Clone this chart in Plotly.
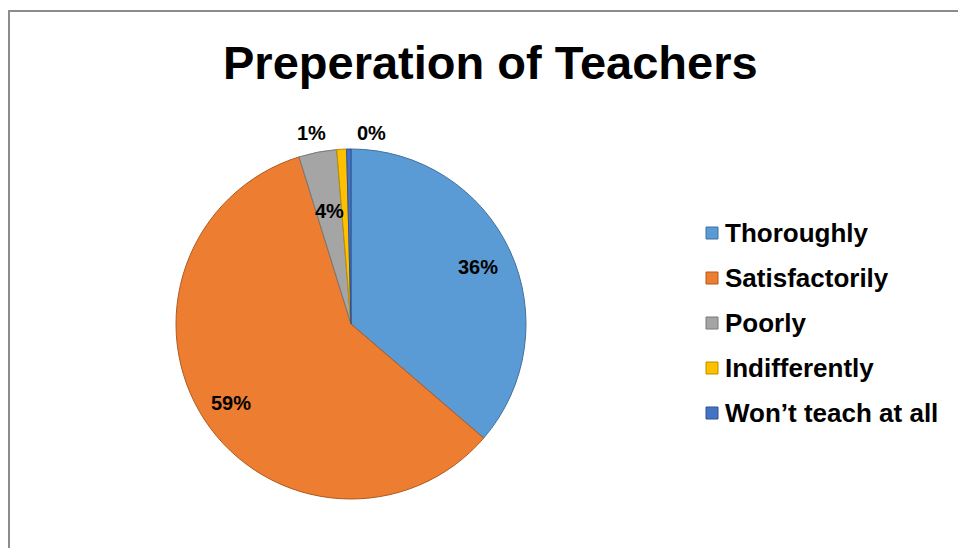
import math
import plotly.graph_objects as go

categories = ["Thoroughly", "Satisfactorily", "Poorly", "Indifferently", "Won\u2019t teach at all"]
values = [36.3, 58.9, 3.5, 0.9, 0.4]
colors = ["#5B9BD5", "#ED7D31", "#A5A5A5", "#FFC000", "#4472C4"]
edge_colors = ["#41719C", "#AE5A21", "#787878", "#BC8C00", "#2F528F"]
title_text = "Preperation of Teachers"

W, H = 958, 548
CX, CY, R = 351, 324, 175  # pie centre / radius in pixels

fig = go.Figure()
fig.add_trace(go.Pie(
    labels=categories,
    values=values,
    sort=False,
    direction="clockwise",
    rotation=0,
    marker=dict(colors=colors, line=dict(color=edge_colors, width=1)),
    textinfo="none",
    hoverinfo="label+percent",
    showlegend=False,
    domain=dict(x=[(CX - R) / W, (CX + R) / W], y=[(H - CY - R) / H, (H - CY + R) / H]),
))

# percentage labels computed from data
total = sum(values)
label_style = {0: (0.82, -3, 3), 1: (0.82, 0, 0), 2: (0.66, 0, 0), 3: (1.0, -30, -16), 4: (1.0, 23, -16)}
cum = 0.0
annotations = []
for i, v in enumerate(values):
    mid = (cum + v / 2) / total * 2 * math.pi
    cum += v
    f, dx, dy = label_style[i]
    px = CX + f * R * math.sin(mid) + dx
    py = CY - f * R * math.cos(mid) + dy
    annotations.append(dict(
        x=px / W, y=1 - py / H, xref="paper", yref="paper",
        text=f"<b>{round(v / total * 100):.0f}%</b>", showarrow=False,
        font=dict(family="Liberation Sans, Arial", size=20, color="#000000"),
        xanchor="center", yanchor="middle",
    ))

# manual legend
LX, LY0, LDY = 706, 233, 45
shapes = []
for i, (c, col, ec) in enumerate(zip(categories, colors, edge_colors)):
    yc = LY0 + i * LDY
    shapes.append(dict(type="rect", xref="paper", yref="paper",
                       x0=LX / W, x1=(LX + 12) / W,
                       y0=1 - (yc + 6) / H, y1=1 - (yc - 6) / H,
                       fillcolor=col, line=dict(color=ec, width=1)))
    annotations.append(dict(
        x=(LX + 17) / W, y=1 - yc / H, xref="paper", yref="paper",
        text=f"<b>{c}</b>", showarrow=False, xanchor="left", yanchor="middle",
        font=dict(family="Liberation Sans, Arial", size=26, color="#000000"),
    ))

# title
annotations.append(dict(
    x=490 / W, y=1 - 62 / H, xref="paper", yref="paper",
    text=f"<b>{title_text}</b>", showarrow=False, xanchor="center", yanchor="middle",
    font=dict(family="Liberation Sans, Arial", size=47, color="#000000"),
))

# chart frame (top and left edges visible)
shapes.append(dict(type="path", xref="paper", yref="paper",
                   path=f"M {9/W} 0 L {9/W} {1-11/H} L 1 {1-11/H}",
                   line=dict(color="#8C8C8C", width=2)))

fig.update_layout(
    width=W, height=H,
    margin=dict(l=0, r=0, t=0, b=0),
    paper_bgcolor="white", plot_bgcolor="white",
    annotations=annotations, shapes=shapes,
)
fig.write_html("out.html", config={"displayModeBar": False},
               post_script="document.body.style.margin='0';document.body.style.padding='0';")
